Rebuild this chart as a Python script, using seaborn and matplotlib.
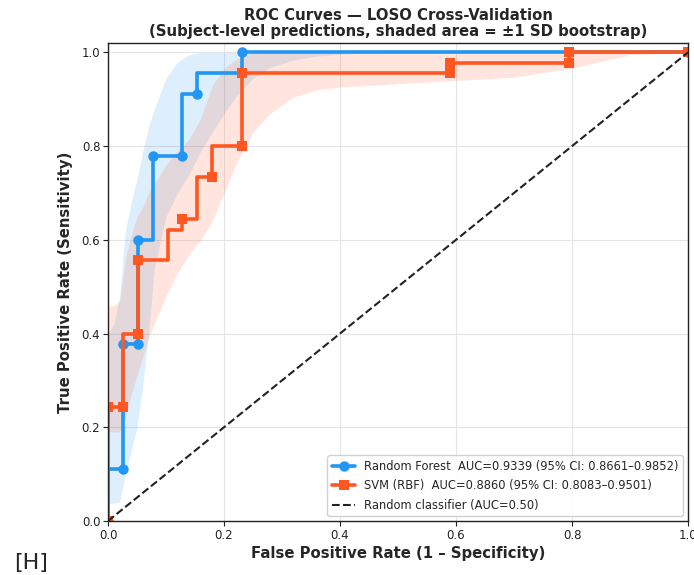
import matplotlib
matplotlib.use("Agg")
import matplotlib.pyplot as plt
import numpy as np
import pandas as pd
import seaborn as sns

# ROC step paths (vertices) for each model
rf_fpr = [0.0, 0.0, 0.026, 0.026, 0.051, 0.051, 0.077, 0.077, 0.128, 0.128, 0.154, 0.154, 0.231, 0.231, 1.0]
rf_tpr = [0.0, 0.111, 0.111, 0.378, 0.378, 0.600, 0.600, 0.778, 0.778, 0.911, 0.911, 0.956, 0.956, 1.0, 1.0]
rf_marked = [0, 2, 3, 4, 5, 7, 8, 10, 13, 14]

svm_fpr = [0.0, 0.0, 0.026, 0.026, 0.051, 0.051, 0.103, 0.103, 0.128, 0.128, 0.154, 0.154, 0.179, 0.179,
           0.231, 0.231, 0.590, 0.590, 0.795, 0.795, 1.0]
svm_tpr = [0.0, 0.244, 0.244, 0.400, 0.400, 0.556, 0.556, 0.622, 0.622, 0.644, 0.644, 0.733, 0.733, 0.800,
           0.800, 0.956, 0.956, 0.978, 0.978, 1.0, 1.0]
svm_marked = [0, 1, 2, 4, 5, 9, 12, 14, 15, 16, 17, 18, 19, 20]

# Bootstrap +/- 1 SD bands on a common FPR grid
band_fpr = [0.0, 0.01, 0.02, 0.03, 0.04, 0.05, 0.06, 0.07, 0.08, 0.10, 0.12, 0.14, 0.16, 0.18, 0.20,
            0.22, 0.25, 0.28, 0.32, 0.36, 0.40, 0.50, 0.60, 0.70, 0.80, 0.90, 1.0]
rf_lo = [0.038, 0.038, 0.040, 0.100, 0.150, 0.200, 0.290, 0.400, 0.540, 0.650, 0.700, 0.740, 0.790, 0.830, 0.870,
         0.905, 0.945, 0.968, 0.984, 0.992, 0.996, 1.0, 1.0, 1.0, 1.0, 1.0, 1.0]
rf_hi = [0.400, 0.420, 0.480, 0.620, 0.680, 0.730, 0.790, 0.840, 0.880, 0.945, 0.980, 0.995, 1.0, 1.0, 1.0,
         1.0, 1.0, 1.0, 1.0, 1.0, 1.0, 1.0, 1.0, 1.0, 1.0, 1.0, 1.0]
svm_lo = [0.190, 0.190, 0.190, 0.220, 0.270, 0.310, 0.350, 0.390, 0.420, 0.480, 0.530, 0.570, 0.600, 0.640, 0.700,
          0.760, 0.830, 0.870, 0.905, 0.920, 0.926, 0.933, 0.940, 0.947, 0.966, 0.995, 1.0]
svm_hi = [0.458, 0.460, 0.470, 0.560, 0.610, 0.650, 0.670, 0.700, 0.720, 0.760, 0.790, 0.815, 0.860, 0.930, 0.965,
          0.985, 0.998, 1.0, 1.0, 1.0, 1.0, 1.0, 1.0, 1.0, 1.0, 1.0, 1.0]

rf_label = "Random Forest  AUC=0.9339 (95% CI: 0.8661\u20130.9852)"
svm_label = "SVM (RBF)  AUC=0.8860 (95% CI: 0.8083\u20130.9501)"
chance_label = "Random classifier (AUC=0.50)"

ticks = [0.0, 0.2, 0.4, 0.6, 0.8, 1.0]

sns.set_theme(style="whitegrid")
plt.rcParams.update({
    "font.family": ["DejaVu Sans"],
    "axes.edgecolor": "#222222",
    "axes.linewidth": 1.0,
    "grid.color": "#e4e4e4",
    "grid.linewidth": 0.8,
    "xtick.bottom": True,
    "ytick.left": True,
    "xtick.major.size": 3.5,
    "ytick.major.size": 3.5,
    "xtick.major.width": 0.8,
    "ytick.major.width": 0.8,
    "xtick.color": "#222222",
    "ytick.color": "#222222",
    "xtick.labelsize": 8.5,
    "ytick.labelsize": 8.5,
})

BLUE = "#2196F3"
RED = "#FF5722"

fig = plt.figure(figsize=(6.94, 5.75), dpi=100)
ax = fig.add_axes([108 / 694, 54 / 575, 580 / 694, 478 / 575])

ax.fill_between(band_fpr, rf_lo, rf_hi, color=BLUE, alpha=0.15, linewidth=0)
sns.lineplot(x=rf_fpr, y=rf_tpr, sort=False, estimator=None, ax=ax, color=BLUE, linewidth=2.6,
             marker="o", markersize=7.5, markeredgewidth=0, markevery=rf_marked, label=rf_label)

ax.fill_between(band_fpr, svm_lo, svm_hi, color=RED, alpha=0.15, linewidth=0)
sns.lineplot(x=svm_fpr, y=svm_tpr, sort=False, estimator=None, ax=ax, color=RED, linewidth=2.6,
             marker="s", markersize=7.5, markeredgewidth=0, markevery=svm_marked, label=svm_label)

sns.lineplot(x=[0, 1], y=[0, 1], ax=ax, color="#222222", linestyle="--", linewidth=1.5, label=chance_label)

ax.set_xlim(0, 1)
ax.set_ylim(0, 1.02)
ax.set_xticks(ticks)
ax.set_yticks(ticks)
ax.set_xticklabels([f"{t:.1f}" for t in ticks])
ax.set_yticklabels([f"{t:.1f}" for t in ticks])
ax.tick_params(axis="both", pad=2)

ax.set_xlabel("False Positive Rate (1 \u2013 Specificity)", fontsize=10.7, fontweight="bold", labelpad=3)
ax.set_ylabel("True Positive Rate (Sensitivity)", fontsize=10.7, fontweight="bold", labelpad=6)
ax.set_title("ROC Curves \u2014 LOSO Cross-Validation\n(Subject-level predictions, shaded area = \u00b11 SD bootstrap)",
             fontsize=10.7, fontweight="bold", pad=5, linespacing=1.12)

ax.legend(loc="lower right", fontsize=8.3, frameon=True, framealpha=0.9, edgecolor="#cccccc",
          borderaxespad=0.4, handlelength=2.0, labelspacing=0.55)

fig.text(14 / 694, 2 / 575, "[H]", fontsize=16, ha="left", va="bottom")

fig.savefig("out.png", dpi=100)
